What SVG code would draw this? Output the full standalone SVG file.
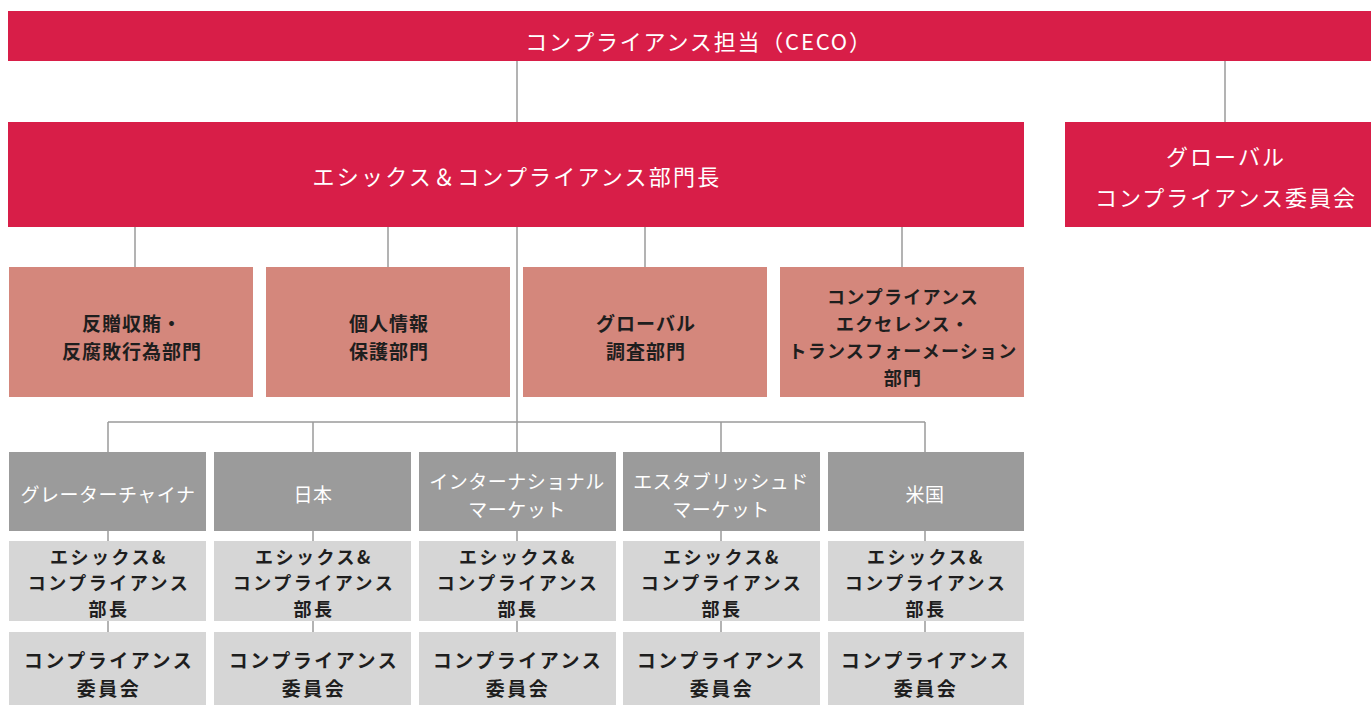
<svg xmlns="http://www.w3.org/2000/svg" width="1371" height="705" viewBox="0 0 1371 705">
<style>
  .red{fill:#D81E48}
  .pink{fill:#D4877C}
  .dg{fill:#9B9B9B}
  .lg{fill:#D6D6D6}
  text{font-family:"Noto Sans CJK JP","Noto Sans",sans-serif;text-anchor:middle;dominant-baseline:central}
  .w{fill:#ffffff;font-size:21px}
  .wt{fill:#ffffff;font-size:19px;letter-spacing:0.5px}
  .pk{fill:#1e1e1e;font-size:19px;font-weight:bold;letter-spacing:1px}
  .pk4{fill:#1e1e1e;font-size:18px;font-weight:bold;letter-spacing:1.2px}
  .lb{fill:#1e1e1e;font-size:18px;font-weight:bold;letter-spacing:2.5px}
  .cc{fill:#1e1e1e;font-size:19px;font-weight:bold;letter-spacing:2.5px}
  .conn line{stroke:#9a9a9a;stroke-width:1.5}
</style>
<rect width="1371" height="705" fill="#ffffff"/>
<g class="conn">
  <line x1="517" y1="61" x2="517" y2="122"/>
  <line x1="1225" y1="61" x2="1225" y2="122"/>
  <line x1="135" y1="227" x2="135" y2="267"/>
  <line x1="388" y1="227" x2="388" y2="267"/>
  <line x1="645" y1="227" x2="645" y2="267"/>
  <line x1="902" y1="227" x2="902" y2="267"/>
  <line x1="517" y1="227" x2="517" y2="422"/>
  <line x1="108" y1="422" x2="925" y2="422"/>
  <line x1="108" y1="422" x2="108" y2="452"/>
  <line x1="313" y1="422" x2="313" y2="452"/>
  <line x1="517" y1="422" x2="517" y2="452"/>
  <line x1="721" y1="422" x2="721" y2="452"/>
  <line x1="925" y1="422" x2="925" y2="452"/>
  <line x1="108" y1="531" x2="108" y2="541"/>
  <line x1="313" y1="531" x2="313" y2="541"/>
  <line x1="517" y1="531" x2="517" y2="541"/>
  <line x1="721" y1="531" x2="721" y2="541"/>
  <line x1="925" y1="531" x2="925" y2="541"/>
  <line x1="108" y1="621" x2="108" y2="632"/>
  <line x1="313" y1="621" x2="313" y2="632"/>
  <line x1="517" y1="621" x2="517" y2="632"/>
  <line x1="721" y1="621" x2="721" y2="632"/>
  <line x1="925" y1="621" x2="925" y2="632"/>
</g>
<g id="ceco"><rect class="red" x="8" y="11" width="1363" height="50"/><text class="w" x="699" y="40" style="font-size:22px" letter-spacing="1.8">コンプライアンス担当（CECO）</text></g>
<g id="ec-head"><rect class="red" x="8" y="122" width="1016" height="105"/><text class="w" x="517" y="175" style="font-size:22px" letter-spacing="2.2">エシックス＆コンプライアンス部門長</text></g>
<g id="global-cc"><rect class="red" x="1065" y="122" width="306" height="105"/><text class="w" x="1226" y="155" style="font-size:22px" letter-spacing="2">グローバル</text><text class="w" x="1226" y="196" style="font-size:22px" letter-spacing="2">コンプライアンス委員会</text></g>

<g id="abac"><rect class="pink" x="9" y="267" width="244" height="130"/><text class="pk" x="132" y="322">反贈収賄・</text><text class="pk" x="132" y="350">反腐敗行為部門</text></g>
<g id="privacy"><rect class="pink" x="266" y="267" width="244" height="130"/><text class="pk" x="389" y="322">個人情報</text><text class="pk" x="389" y="350">保護部門</text></g>
<g id="investigation"><rect class="pink" x="523" y="267" width="244" height="130"/><text class="pk" x="646" y="322">グローバル</text><text class="pk" x="646" y="350">調査部門</text></g>
<g id="excellence"><rect class="pink" x="780" y="267" width="244" height="130"/><text class="pk4" x="903" y="296">コンプライアンス</text><text class="pk4" x="903" y="323">エクセレンス・</text><text class="pk4" x="903" y="350">トランスフォーメーション</text><text class="pk4" x="903" y="377">部門</text></g>

<g id="gc"><rect class="dg" x="9" y="452" width="197" height="79"/><text class="wt" x="108" y="493">グレーターチャイナ</text></g>
<g id="japan"><rect class="dg" x="214" y="452" width="197" height="79"/><text class="wt" x="313" y="493">日本</text></g>
<g id="im"><rect class="dg" x="419" y="452" width="197" height="79"/><text class="wt" x="517" y="480">インターナショナル</text><text class="wt" x="517" y="508" letter-spacing="2">マーケット</text></g>
<g id="em"><rect class="dg" x="623" y="452" width="197" height="79"/><text class="wt" x="721" y="480">エスタブリッシュド</text><text class="wt" x="721" y="508" letter-spacing="2">マーケット</text></g>
<g id="us"><rect class="dg" x="828" y="452" width="196" height="79"/><text class="wt" x="925" y="493">米国</text></g>

<g id="gc-head"><rect class="lg" x="9" y="541" width="197" height="80"/><text class="lb" x="109" y="556">エシックス&amp;</text><text class="lb" x="109" y="582">コンプライアンス</text><text class="lb" x="109" y="608">部長</text></g>
<g id="japan-head"><rect class="lg" x="214" y="541" width="197" height="80"/><text class="lb" x="314" y="556">エシックス&amp;</text><text class="lb" x="314" y="582">コンプライアンス</text><text class="lb" x="314" y="608">部長</text></g>
<g id="im-head"><rect class="lg" x="419" y="541" width="197" height="80"/><text class="lb" x="518" y="556">エシックス&amp;</text><text class="lb" x="518" y="582">コンプライアンス</text><text class="lb" x="518" y="608">部長</text></g>
<g id="em-head"><rect class="lg" x="623" y="541" width="197" height="80"/><text class="lb" x="722" y="556">エシックス&amp;</text><text class="lb" x="722" y="582">コンプライアンス</text><text class="lb" x="722" y="608">部長</text></g>
<g id="us-head"><rect class="lg" x="828" y="541" width="196" height="80"/><text class="lb" x="926" y="556">エシックス&amp;</text><text class="lb" x="926" y="582">コンプライアンス</text><text class="lb" x="926" y="608">部長</text></g>

<g id="gc-cc"><rect class="lg" x="9" y="632" width="197" height="73"/><text class="cc" x="109" y="659">コンプライアンス</text><text class="cc" x="109" y="687">委員会</text></g>
<g id="japan-cc"><rect class="lg" x="214" y="632" width="197" height="73"/><text class="cc" x="314" y="659">コンプライアンス</text><text class="cc" x="314" y="687">委員会</text></g>
<g id="im-cc"><rect class="lg" x="419" y="632" width="197" height="73"/><text class="cc" x="518" y="659">コンプライアンス</text><text class="cc" x="518" y="687">委員会</text></g>
<g id="em-cc"><rect class="lg" x="623" y="632" width="197" height="73"/><text class="cc" x="722" y="659">コンプライアンス</text><text class="cc" x="722" y="687">委員会</text></g>
<g id="us-cc"><rect class="lg" x="828" y="632" width="196" height="73"/><text class="cc" x="926" y="659">コンプライアンス</text><text class="cc" x="926" y="687">委員会</text></g>
</svg>
